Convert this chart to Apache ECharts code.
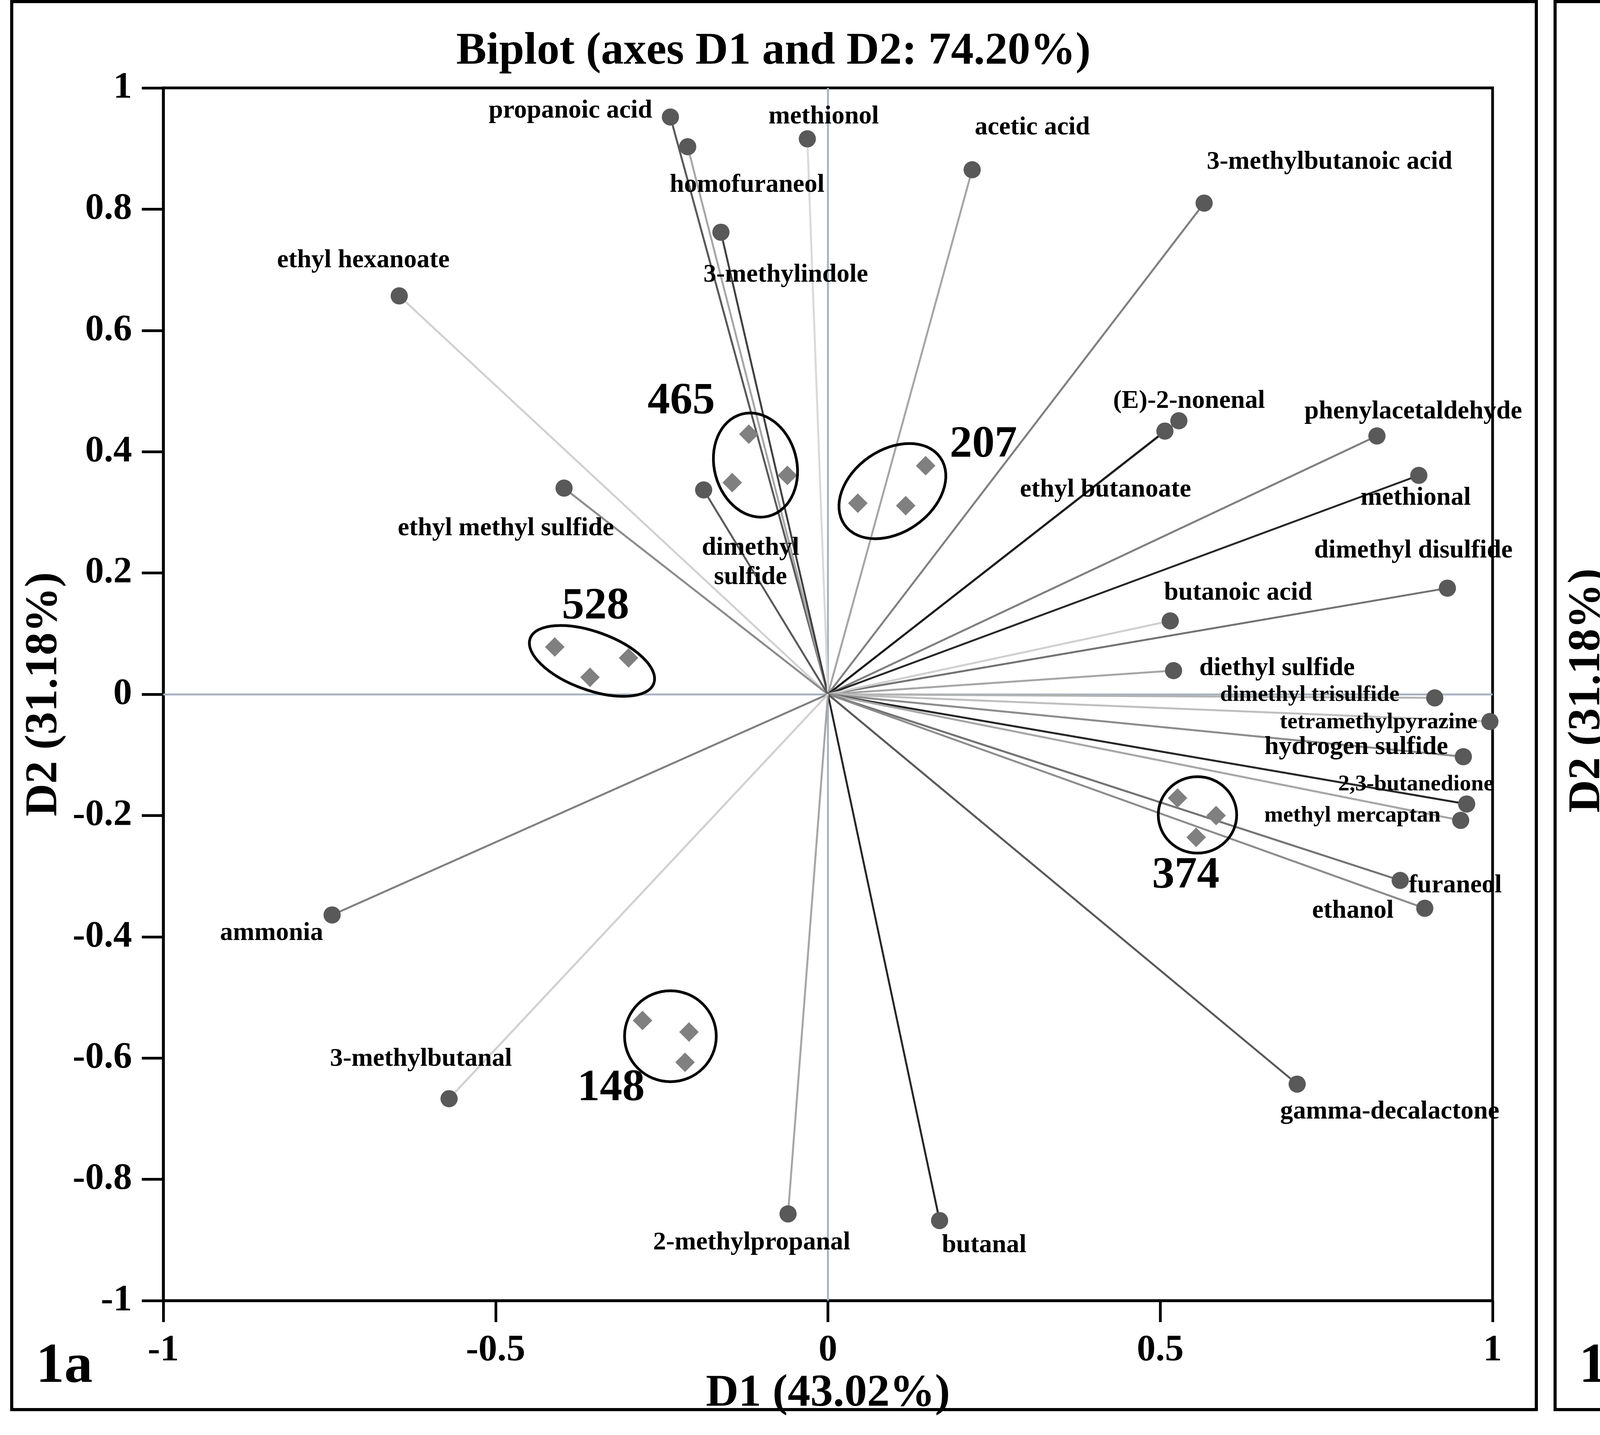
<!DOCTYPE html>
<html>
<head>
<meta charset="utf-8">
<title>Biplot and Variables (axes D1 and D2: 74.20%)</title>
<script src="https://cdn.jsdelivr.net/npm/echarts@6.0.0/dist/echarts.min.js"></script>
<style>
html,body{margin:0;padding:0;background:#ffffff;}
#chart{width:7885px;height:3673px;}
</style>
</head>
<body>
<div id="chart"></div>
<script>
// ---------------- DATA ----------------
const variables = [
  'propanoic acid','homofuraneol','3-methylindole','methionol','acetic acid',
  '3-methylbutanoic acid','ethyl hexanoate','ethyl methyl sulfide','dimethyl sulfide',
  '(E)-2-nonenal','ethyl butanoate','phenylacetaldehyde','methional','dimethyl disulfide',
  'butanoic acid','diethyl sulfide','dimethyl trisulfide','tetramethylpyrazine',
  'hydrogen sulfide','2,3-butanedione','methyl mercaptan','furaneol','ethanol',
  'gamma-decalactone','butanal','2-methylpropanal','ammonia','3-methylbutanal'
];

// Panel 1a (biplot) variable coordinates
const biplotD1 = [-0.237,-0.211,-0.161,-0.031,0.217,0.566,-0.645,-0.397,-0.187,0.528,0.507,0.826,0.889,0.932,0.515,0.520,0.913,0.996,0.956,0.961,0.952,0.861,0.898,0.706,0.168,-0.060,-0.746,-0.570];
const biplotD2 = [0.952,0.903,0.762,0.916,0.865,0.810,0.657,0.340,0.337,0.451,0.434,0.426,0.361,0.175,0.121,0.039,-0.006,-0.045,-0.103,-0.181,-0.208,-0.307,-0.353,-0.643,-0.868,-0.857,-0.364,-0.667];

// Panel 1b (correlation circle) variable coordinates
const corrD1 = [-0.282,-0.257,-0.196,-0.075,0.177,0.525,-0.676,-0.413,-0.201,0.507,0.484,0.806,0.873,0.922,0.512,0.521,0.915,0.999,0.960,0.973,0.963,0.876,0.915,0.738,0.211,-0.018,-0.728,-0.534];
const corrD2 = [0.938,0.893,0.754,0.915,0.874,0.836,0.623,0.320,0.327,0.476,0.458,0.468,0.406,0.222,0.149,0.065,0.037,0.007,-0.052,-0.131,-0.157,-0.263,-0.308,-0.608,-0.855,-0.857,-0.403,-0.693];

// Sample observations (three replicates per sample)
const sampleGroups = ['465','528','207','374','148'];
const sampleGroupOf = ['465','465','465','528','528','528','207','207','207','374','374','374','148','148','148'];
const sampleD1 = [-0.119,-0.144,-0.061,-0.411,-0.358,-0.300,0.045,0.117,0.147,0.526,0.584,0.554,-0.279,-0.209,-0.215];
const sampleD2 = [0.429,0.349,0.361,0.078,0.028,0.060,0.315,0.311,0.377,-0.171,-0.200,-0.236,-0.538,-0.557,-0.607];

// Group ellipses (centre, half-extent in axis units, tilt in degrees)
const groupCenterD1 = [-0.109,-0.355,0.097,0.556,-0.237];
const groupCenterD2 = [0.378,0.055,0.335,-0.199,-0.564];
const groupSpreadD1 = [0.062,0.099,0.088,0.059,0.069];
const groupSpreadD2 = [0.087,0.048,0.068,0.063,0.075];
const groupTilt = [15,-20,35,0,0];

// Axis settings
const axisMin = -1, axisMax = 1;
const biplotTickStepD1 = 0.5, biplotTickStepD2 = 0.2;
const corrTickStep = 0.25;

// ---------------- STYLE / LAYOUT ----------------
const FONT = "'Liberation Serif','Times New Roman',Times,serif";
const lineShades = ['#595959','#a6a6a6','#404040','#d9d9d9','#a6a6a6','#808080','#d0d0d0','#8c8c8c','#595959','#7f7f7f','#1a1a1a','#7f7f7f','#262626','#737373','#d0d0d0','#a6a6a6','#b3b3b3','#bfbfbf','#8c8c8c','#262626','#a6a6a6','#737373','#8c8c8c','#595959','#262626','#a6a6a6','#7f7f7f','#d0d0d0'];
const leftOffsets = [[-256,-16],[152,98],[166,110],[42,-56],[154,-108],[321,-105],[-92,-90],[-149,104],[120,186],[26,-50],[-152,151],[93,-62],[-8,58],[-87,-95],[174,-71],[265,-6],[-320,-7],[-285,2],[-274,-24],[-130,-50],[-277,-12],[141,13],[-184,7],[237,71],[114,64],[-93,74],[-155,47],[-72,-101]];
const rightOffsets = [[-272,-37],[128,95],[68,181],[38,-98],[158,-109],[407,-64],[-236,-108],[-355,2],[-81,-149],[50,-81],[-159,170],[135,-52],[182,35],[-28,-47],[55,-43],[140,-13],[-41,-34],[-340,6],[-486,-20],[-80,-42],[-101,75],[182,21],[81,68],[173,73],[121,72],[-89,94],[-120,-106],[-373,69]];
const leftSmall = new Set(['dimethyl trisulfide','tetramethylpyrazine','2,3-butanedione','methyl mercaptan']);
const leftWrap = new Set(['dimethyl sulfide']);
const rightWrap = new Set(['dimethyl sulfide','diethyl sulfide']);
const groupLabelOffsets = [[-190,-162],[9,-138],[233,-118],[-30,156],[-152,134]];

function makeAxis(kind, gridIndex, step, name, nameGap) {
  const ax = {
    type: 'value', gridIndex: gridIndex, min: axisMin, max: axisMax, interval: step,
    name: name, nameLocation: 'middle', nameGap: nameGap,
    nameTextStyle: {fontSize: 116, fontWeight: 'bold', fontFamily: FONT, color: '#000'},
    axisLine: {show: true, onZero: false, lineStyle: {color: '#000', width: 7}},
    axisTick: {show: true, inside: false, length: 55, lineStyle: {color: '#000', width: 7}},
    axisLabel: {show: true, margin: 80, fontSize: 96, fontWeight: 'bold', fontFamily: FONT, color: '#000',
      showMinLabel: true, showMaxLabel: true},
    splitLine: {show: false}, splitArea: {show: false}
  };
  if (kind === 'y') ax.nameRotate = 90;
  return ax;
}

function zeroLines(gi) {
  return {
    type: 'lines', coordinateSystem: 'cartesian2d', xAxisIndex: gi, yAxisIndex: gi, z: 1, silent: true,
    lineStyle: {color: '#a9b4bf', width: 5, opacity: 1},
    data: [
      {coords: [[axisMin, 0], [axisMax, 0]]},
      {coords: [[0, axisMin], [0, axisMax]]}
    ]
  };
}

function vectorLines(gi, xs, ys) {
  return {
    type: 'lines', coordinateSystem: 'cartesian2d', xAxisIndex: gi, yAxisIndex: gi, z: 2, silent: true,
    lineStyle: {width: 5, opacity: 1},
    data: variables.map((n, i) => ({coords: [[0, 0], [xs[i], ys[i]]], lineStyle: {color: lineShades[i], width: 5, opacity: 1}}))
  };
}

function varPoints(gi, xs, ys, offsets, sizeFn, wrapSet, lh) {
  return {
    type: 'scatter', xAxisIndex: gi, yAxisIndex: gi, z: 3, silent: true,
    symbol: 'circle', symbolSize: 44, itemStyle: {color: '#595959', opacity: 1},
    label: {show: true, position: 'inside', color: '#000', fontWeight: 'bold', fontFamily: FONT, lineHeight: lh,
      formatter: p => wrapSet.has(p.name) ? p.name.replace(' ', '\n') : p.name},
    data: variables.map((n, i) => ({
      name: n, value: [xs[i], ys[i]],
      label: {offset: offsets[i], fontSize: sizeFn(n), lineHeight: lh}
    }))
  };
}

function ellipseItem(params, api, strokeW, withLabel) {
  const c = api.coord([api.value(0), api.value(1)]);
  const s = api.size([api.value(2), api.value(3)]);
  const children = [{
    type: 'ellipse', x: c[0], y: c[1], rotation: api.value(4) * Math.PI / 180,
    shape: {cx: 0, cy: 0, rx: s[0], ry: s[1]},
    style: {fill: 'none', stroke: '#000', lineWidth: strokeW}
  }];
  if (withLabel) {
    const off = groupLabelOffsets[params.dataIndex];
    children.push({
      type: 'text', x: c[0] + off[0], y: c[1] + off[1],
      style: {text: sampleGroups[params.dataIndex], fill: '#000', font: 'bold 115px ' + FONT, align: 'center', verticalAlign: 'middle'}
    });
  }
  return {type: 'group', children: children};
}

const option = {
  animation: false,
  backgroundColor: '#ffffff',
  grid: [
    {left: 418, top: 225, width: 3403, height: 3104, show: true, borderColor: '#000', borderWidth: 7, backgroundColor: 'transparent', containLabel: false, outerBoundsMode: 'none'},
    {left: 4408, top: 240, width: 3317, height: 3055, show: true, borderColor: '#000', borderWidth: 7, backgroundColor: 'transparent', containLabel: false, outerBoundsMode: 'none'}
  ],
  xAxis: [
    makeAxis('x', 0, biplotTickStepD1, 'D1 (43.02%)', 146),
    makeAxis('x', 1, corrTickStep, 'D1 (43.02%)', 180)
  ],
  yAxis: [
    makeAxis('y', 0, biplotTickStepD2, 'D2 (31.18%)', 246),
    makeAxis('y', 1, corrTickStep, 'D2 (31.18%)', 286)
  ],
  graphic: [
    {type: 'rect', z: 100, shape: {x: 30, y: 4, width: 3903, height: 3604}, style: {fill: 'none', stroke: '#000', lineWidth: 8}},
    {type: 'rect', z: 100, shape: {x: 3981, y: 4, width: 3899, height: 3604}, style: {fill: 'none', stroke: '#000', lineWidth: 8}},
    {type: 'text', z: 100, x: 1980, y: 133, style: {text: 'Biplot (axes D1 and D2: 74.20%)', fill: '#000', font: 'bold 116px ' + FONT, align: 'center', verticalAlign: 'middle'}},
    {type: 'text', z: 100, x: 5930, y: 133, style: {text: 'Variables (axes D1 and D2: 74.20%)', fill: '#000', font: 'bold 116px ' + FONT, align: 'center', verticalAlign: 'middle'}},
    {type: 'text', z: 100, x: 92, y: 3500, style: {text: '1a', fill: '#000', font: 'bold 145px ' + FONT, align: 'left', verticalAlign: 'middle'}},
    {type: 'text', z: 100, x: 4042, y: 3500, style: {text: '1b', fill: '#000', font: 'bold 145px ' + FONT, align: 'left', verticalAlign: 'middle'}}
  ],
  series: [
    zeroLines(0),
    zeroLines(1),
    vectorLines(0, biplotD1, biplotD2),
    vectorLines(1, corrD1, corrD2),
    {
      type: 'custom', xAxisIndex: 1, yAxisIndex: 1, z: 2, silent: true, clip: false,
      data: [[0, 0, 1, 1, 0]],
      renderItem: (params, api) => ellipseItem(params, api, 5, false)
    },
    varPoints(0, biplotD1, biplotD2, leftOffsets, n => leftSmall.has(n) ? 58 : 66, leftWrap, 75),
    varPoints(1, corrD1, corrD2, rightOffsets, n => 74, rightWrap, 81),
    {
      type: 'scatter', xAxisIndex: 0, yAxisIndex: 0, z: 3, silent: true,
      symbol: 'diamond', symbolSize: 50, itemStyle: {color: '#808080', opacity: 1},
      data: sampleD1.map((v, i) => ({name: sampleGroupOf[i], value: [v, sampleD2[i]]}))
    },
    {
      type: 'custom', xAxisIndex: 0, yAxisIndex: 0, z: 4, silent: true, clip: false,
      data: sampleGroups.map((g, i) => [groupCenterD1[i], groupCenterD2[i], groupSpreadD1[i], groupSpreadD2[i], groupTilt[i]]),
      renderItem: (params, api) => ellipseItem(params, api, 7, true)
    }
  ]
};

const chart = echarts.init(document.getElementById('chart'), null, {renderer: 'canvas'});
chart.setOption(option);
</script>
</body>
</html>
